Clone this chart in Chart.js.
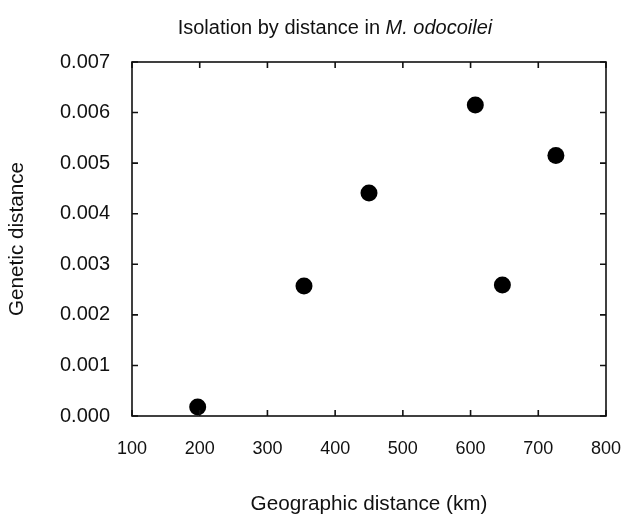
<!DOCTYPE html>
<html lang="en">
<head>
    <meta charset="UTF-8">
    <title>Isolation by distance</title>
    <script src="https://cdn.jsdelivr.net/npm/chart.js"></script>
    <style>
        html, body { margin: 0; padding: 0; background: #fff; overflow: hidden; }
        #wrap { position: relative; width: 622px; height: 517px; }
        #title {
            position: absolute; left: 35px; top: 17px; width: 600px;
            text-align: center; font: 20px/20px "Liberation Sans", Arial, sans-serif; color: #111;
        }
    </style>
</head>
<body>
<div id="wrap">
    <canvas id="myChart" width="622" height="517"></canvas>
    <div id="title">Isolation by distance in <i>M. odocoilei</i></div>
</div>
<script>
    // values
    const distanceKm = [197, 354, 450, 607, 647, 726];
    const geneticDist = [0.00018, 0.00257, 0.00441, 0.00615, 0.00259, 0.00515];
    const xTicks = [100, 200, 300, 400, 500, 600, 700, 800];
    const yTicks = [0, 0.001, 0.002, 0.003, 0.004, 0.005, 0.006, 0.007];

    const points = distanceKm.map((d, i) => ({ x: d, y: geneticDist[i] }));

    // frame with inward ticks on all four sides
    const frame = {
        id: 'frame',
        afterDraw(chart) {
            const { ctx, chartArea: a, scales } = chart;
            const len = 6;
            ctx.save();
            ctx.strokeStyle = '#111';
            ctx.lineWidth = 1.6;
            ctx.strokeRect(a.left, a.top, a.right - a.left, a.bottom - a.top);
            ctx.beginPath();
            xTicks.forEach(v => {
                const px = scales.x.getPixelForValue(v);
                ctx.moveTo(px, a.bottom); ctx.lineTo(px, a.bottom - len);
                ctx.moveTo(px, a.top); ctx.lineTo(px, a.top + len);
            });
            yTicks.forEach(v => {
                const py = scales.y.getPixelForValue(v);
                ctx.moveTo(a.left, py); ctx.lineTo(a.left + len, py);
                ctx.moveTo(a.right, py); ctx.lineTo(a.right - len, py);
            });
            ctx.stroke();
            ctx.restore();
        }
    };

    const family = '"Liberation Sans", Arial, sans-serif';

    new Chart(document.getElementById('myChart'), {
        type: 'scatter',
        data: {
            datasets: [{
                data: points,
                backgroundColor: '#000',
                borderWidth: 0,
                pointRadius: 8.5,
                pointHoverRadius: 8.5
            }]
        },
        options: {
            responsive: false,
            animation: false,
            layout: { padding: { top: 62, right: 16, bottom: 0, left: 0 } },
            plugins: { legend: { display: false }, tooltip: { enabled: false } },
            scales: {
                x: {
                    type: 'linear', min: 100, max: 800,
                    afterBuildTicks: s => { s.ticks = xTicks.map(v => ({ value: v })); },
                    afterFit: s => { s.height = 101; s.paddingLeft = 0; s.paddingRight = 0; },
                    grid: { display: false, drawTicks: false },
                    border: { display: false },
                    ticks: { color: '#111', font: { family: family, size: 18 }, padding: 22, maxRotation: 0 },
                    title: { display: true, text: 'Geographic distance (km)', color: '#111',
                             font: { family: family, size: 20.7 }, padding: { top: 0, bottom: 0 } }
                },
                y: {
                    type: 'linear', min: 0, max: 0.007,
                    afterBuildTicks: s => { s.ticks = yTicks.map(v => ({ value: v })); },
                    afterFit: s => { s.width = 132; s.paddingTop = 0; s.paddingBottom = 0; },
                    grid: { display: false, drawTicks: false },
                    border: { display: false },
                    ticks: { color: '#111', font: { family: family, size: 20 }, padding: 22,
                             callback: v => v.toFixed(3) },
                    title: { display: true, text: 'Genetic distance', color: '#111',
                             font: { family: family, size: 20.7 }, padding: { top: 5, bottom: 0 } }
                }
            }
        },
        plugins: [frame]
    });
</script>
</body>
</html>
